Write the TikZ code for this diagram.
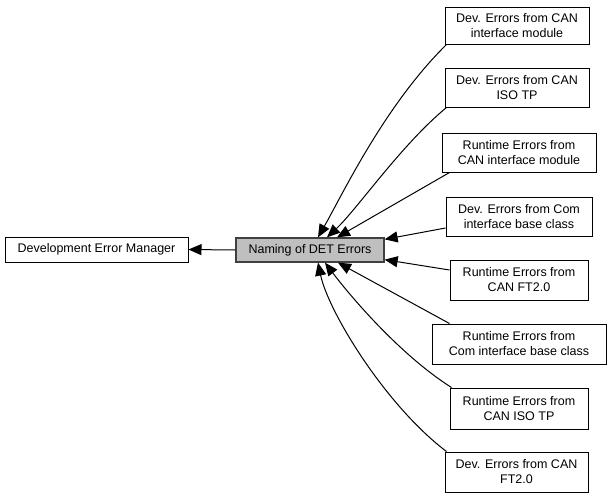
\documentclass[tikz,border=0pt]{standalone}
\usepackage{fontspec}
\setmainfont{Liberation Sans}
\usetikzlibrary{arrows.meta}
\definecolor{namfill}{HTML}{BFBFBF}
\definecolor{namdraw}{HTML}{404040}
\tikzset{
  box/.style={draw=black, line width=1pt, fill=white, inner sep=0pt, align=center,
    font=\fontsize{12.5}{15}\selectfont},
  conn/.style={line width=1pt, -{Triangle[length=13pt,width=11pt]}}
}
\begin{document}
\begin{tikzpicture}[x=1pt,y=-1pt]
\useasboundingbox (0,0) rectangle (611,499);
\node[box, minimum width=183pt, minimum height=25pt] (dem) at (96.5,249.5) {Development Error Manager};
\node[box, fill=namfill, draw=namdraw, line width=1.3pt, minimum width=148pt, minimum height=24pt] (nam) at (310,250) {Naming of DET Errors};
\node[box, minimum width=144pt, minimum height=37pt] (c1) at (517,25.5) {Dev. Errors from CAN\\interface module};
\node[box, minimum width=144pt, minimum height=39pt] (c2) at (517,87.5) {Dev. Errors from CAN\\ISO TP};
\node[box, minimum width=154pt, minimum height=39pt] (c3) at (519,152.5) {Runtime Errors from\\CAN interface module};
\node[box, minimum width=146pt, minimum height=39pt] (c4) at (519,216.5) {Dev. Errors from Com\\interface base class};
\node[box, minimum width=138pt, minimum height=40pt] (c5) at (519,280) {Runtime Errors from\\CAN FT2.0};
\node[box, minimum width=174pt, minimum height=40pt] (c6) at (519,344) {Runtime Errors from\\Com interface base class};
\node[box, minimum width=138pt, minimum height=41pt] (c7) at (519,408.5) {Runtime Errors from\\CAN ISO TP};
\node[box, minimum width=143pt, minimum height=40pt] (c8) at (516.5,472) {Dev. Errors from CAN\\FT2.0};

\draw[conn] (nam.west) -- (dem.east);
\draw[conn] ([xshift=2pt]c1.south west) .. controls +(-62,61) and +(24,-42) .. ([xshift=8pt]nam.north);
\draw[conn] ([xshift=2pt]c2.south west) .. controls +(-45,37) and +(30,-28) .. ([xshift=17pt]nam.north);
\draw[conn] ([xshift=8pt]c3.south west) -- ([xshift=27pt]nam.north);
\draw[conn] ([yshift=-11.5pt]c4.west) -- ([yshift=-2pt]nam.north east);
\draw[conn] ([yshift=10pt]c5.west) -- ([yshift=3pt]nam.south east);
\draw[conn] ([xshift=18pt]c6.north west) -- ([xshift=28pt]nam.south);
\draw[conn] ([xshift=2pt]c7.north west) .. controls +(-52,-33) and +(25,33) .. ([xshift=15pt]nam.south);
\draw[conn] ([xshift=2pt]c8.north west) .. controls +(-62,-47) and +(10,48) .. ([xshift=8pt]nam.south);
\end{tikzpicture}
\end{document}
